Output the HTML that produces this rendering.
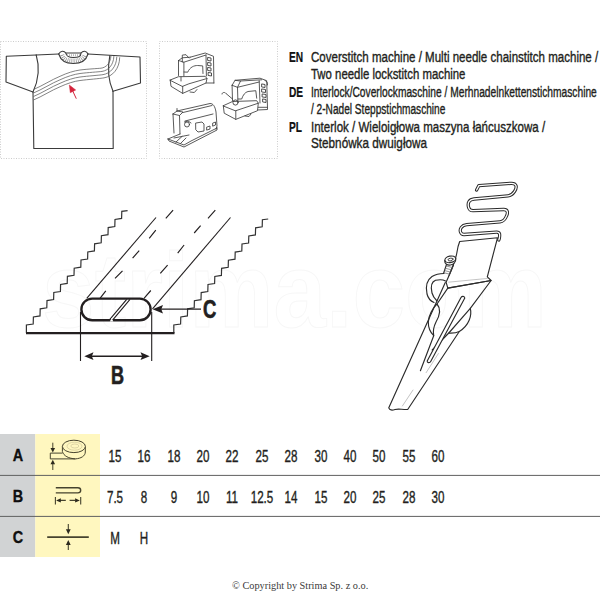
<!DOCTYPE html>
<html><head><meta charset="utf-8">
<style>
html,body{margin:0;padding:0;background:#fff;}
body{width:600px;height:600px;position:relative;overflow:hidden;font-family:"Liberation Sans",sans-serif;color:#231f20;}
.t{position:absolute;white-space:nowrap;transform-origin:0 0;}
#svg{position:absolute;left:0;top:0;}
.hd{font-size:15.2px;line-height:16px;-webkit-text-stroke:0.38px #231f20;}
.hb{font-weight:bold;-webkit-text-stroke:0.2px #000;color:#111;}
.num{position:absolute;-webkit-text-stroke:0.35px #231f20;font-size:15.6px;width:60px;text-align:center;transform:scaleX(0.745);transform-origin:30px 0;line-height:16px;white-space:nowrap;}
.lt{position:absolute;font-size:16px;font-weight:bold;width:36px;text-align:center;transform:scaleX(0.9);transform-origin:18px 0;line-height:16px;-webkit-text-stroke:0.3px #000;color:#111;}
.copy{position:absolute;left:232px;top:578.6px;font-family:"Liberation Serif",serif;font-size:10.3px;color:#3a3a3a;white-space:nowrap;line-height:14px;}
</style></head>
<body>
<svg id="svg" width="600" height="600" viewBox="0 0 600 600">
 <g fill="none" stroke="#cccccc" stroke-width="1" stroke-dasharray="1 1.5">
  <rect x="0.5" y="41.5" width="146" height="117"/>
  <rect x="159.5" y="41.5" width="118" height="117"/>
 </g>
<text x="42" y="327" font-family="Liberation Sans" font-weight="bold" font-size="106" textLength="505" lengthAdjust="spacingAndGlyphs" fill="none" stroke="#f7f7f7" stroke-width="1">strima.com</text>

 <g fill="none" stroke="#3a3a3a" stroke-width="1.1" stroke-linejoin="round" stroke-linecap="round">
  <path d="M36.2,55 L6.3,56.3 L6,82 L33,92"/>
  <path d="M36.2,55 C39.5,66 39.5,78 33,92"/>
  <path d="M36.2,55 L58.7,54"/>
  <path d="M88,54 L140,57 L140.5,83 L113,91.3"/>
  <path d="M109.8,55.6 C107.5,68 108,80 113,91.3"/>
  <path d="M33,92 L33.8,148.5 L113.2,148.5 L113,91.3"/>
  <path d="M58.7,54 C60.5,50.5 64,50.5 65.8,53 L81,53 C83,50.5 86.5,50.5 88,54"/>
  <path d="M58.7,54 C61,61.5 67,63.5 73.3,63.5 C80,63.5 86,61 88,54"/>
  <path d="M65.8,53 C66.5,57 69.5,57.5 73.3,57.5 C78,57.5 81,57 81,53"/>
 </g>
 <path d="M62,55 C64,60.5 68.5,60.8 73.3,60.8 C79,60.8 83,59.5 84.8,55" fill="none" stroke="#888" stroke-width="4.5" stroke-dasharray="0.7 1.3"/>
 <path d="M67,55.2 L80,55.2" fill="none" stroke="#999" stroke-width="2" stroke-dasharray="0.7 1.3"/>
 <g fill="none" stroke="#5a5a5a" stroke-width="0.75">
  <path d="M33.5,89.50 C42,86.00 52,79.50 60,76.30 C67,73.00 74,70.80 80,70.00 C88,69.00 97.0,68.60 101.0,68.20 C106.0,67.50 110.5,63.50 111.0,55.50"/>
  <path d="M33.5,93.00 C42,89.50 52,83.00 60,79.80 C67,76.50 74,74.30 80,73.50 C88,72.50 98.0,71.92 102.0,71.42 C108.2,70.47 113.5,65.25 113.9,56.10"/>
  <path d="M33.5,96.50 C42,93.00 52,86.50 60,83.30 C67,80.00 74,77.80 80,77.00 C88,76.00 99.0,75.25 103.0,74.64 C110.4,73.45 116.5,67.00 116.8,56.70"/>
  <path d="M33.5,100.00 C42,96.50 52,90.00 60,86.80 C67,83.50 74,81.30 80,80.50 C88,79.50 100.0,78.57 104.0,77.86 C112.6,76.42 119.5,68.75 119.7,57.30"/>
 </g>
 <g stroke="#d4243c" fill="#d4243c">
  <path d="M69.3,85 L70.3,92.7 L75.7,90 Z" stroke-width="0.5"/>
  <path d="M72.5,90.5 L76.3,98.7" stroke-width="1"/>
 </g>


 <g fill="none" stroke="#3c3c3c" stroke-width="0.85" stroke-linejoin="round" stroke-linecap="round">
  <!-- machine 1 -->
  <path d="M178.5,60.5 L183.9,62.2 L183.9,76 M178.5,60.5 L178.5,75.5 M178.5,60.5 L182.3,57.8 L190.2,57.2"/>
  <path d="M182.3,62 L182.3,55.1 L186,54.7 L188.9,58"/>
  <path d="M183.9,62.2 L206,55 M190.2,57.2 L205.2,53 L213.5,56.3 L213.9,83"/>
  <path d="M184,72 L187.7,72.2 C190,67 194,65.5 197.7,65.5 L202.7,65.9 L203,73.5"/>
  <path d="M206,55 L206.4,76"/>
  <path d="M208,57.5 l3,0.5 l0,3 l-3,-0.5z M208,62.5 l3,0.5 l0,3 l-3,-0.5z M208,67.5 l3,0.5 l0,3 l-3,-0.5z M208.5,72.5 l3,0.5 l0,3 l-3,-0.5z" stroke-width="0.9"/>
  <path d="M170.2,80 L178.5,76.7 L205.2,76.3 L207,78.5 L188.9,83.8 L182.7,86.3 Z"/>
  <path d="M170.2,80 L171,86.3 L182.7,93.4 L182.7,86.3 M182.7,93.4 L206,83 L213.9,83 M207,78.5 L206,83"/>
  <path d="M181,77 L181,81 M190,92 L194.3,92.5 L197,89.5"/>
  <!-- machine 2 -->
  <path d="M232.1,85.3 L237.5,87.3 L237.9,101.5 M232.1,85.3 L232.5,100.7 M232.1,85.3 L235,80.3 L240.5,81 L237.5,87.3"/>
  <path d="M235,80.3 L260,78.2 L266.7,80.7 L267.5,107.3 M240.5,81 L261.7,79.8 M237.5,87.3 L259.2,82"/>
  <path d="M238,99 L241.7,99 C243,95 245,92.3 248,91.5 L255.8,90.7 L256.7,98.2"/>
  <path d="M259.2,80.7 L260,103"/>
  <path d="M262,84 l3,0.5 l0,3 l-3,-0.5z M262,89 l3.5,0.5 l0,3 l-3.5,-0.5z M262.5,94 l3.5,0.5 l0,3 l-3.5,-0.5z M263,99 l3,0.5 l0,3 l-3,-0.5z" stroke-width="0.9"/>
  <path d="M265,80.5 C267,81 268,83 267.5,85"/>
  <path d="M223.3,105.7 L232.5,101.5 L256.7,100.7 L258.3,103.2 L235.8,110.7 Z"/>
  <path d="M223.3,105.7 L224.2,113.2 L235.8,119.4 L235.8,110.7 M235.8,119.4 L257.5,110.7 L258.3,103.2 M258.3,107.3 L267.5,107.3 L267.5,109.5 L257.8,110"/>
  <path d="M222,94 C222,92 225,92 226,93.5 L232.5,99"/>
  <circle cx="235.5" cy="102.5" r="2.6" stroke-width="0.9"/>
  <path d="M245,116 L249,116.5 L251,114"/>
  <!-- machine 3 -->
  <path d="M173,114 L179.5,115.5 L180,134 M173,114 L174,133 M173,114 L177,111 L183,112 L179.5,115.5"/>
  <path d="M177,111 L210,103.5 C213,103.5 215,106 216,112 L217,126 L216,129 M183,112.5 L212,105.5 M185,121 L213,114"/>
  <path d="M177,111 L177,108.5"/>
  <circle cx="187" cy="124.5" r="2.5"/>
  <path d="M184.5,122 L188,121 L191,123"/>
  <path d="M196,123 L202,122 L204,124 L204,131 L198,132 L196,130 Z"/>
  <path d="M207,127 l3,-1 l0,3 l-3,1z M213,123 l2.5,-1 l0,3 l-2.5,1z"/>
  <path d="M168,139 L180,134 M168,139 L184,145 L191,141 L217,128 M168,139 L169,141 L184,147 L217,130 L217,128"/>
  <path d="M174,138 L189,135 M176,142 L182,136.5 M180.5,143.5 L186,138"/>
 </g>


 <g fill="none" stroke="#231f20" stroke-linejoin="miter" stroke-linecap="butt">
  <path d="M26.4,333.0 L26.4,325.0 L33.2,324.0 L33.4,316.9 L40.0,315.9 L40.2,308.8 L46.8,307.8 L47.0,300.6 L53.6,299.6 L53.8,292.5 L60.4,291.5 L60.6,284.4 L67.2,283.4 L67.4,276.3 L74.0,275.3 L74.2,268.2 L80.8,267.2 L81.0,260.0 L87.6,259.0 L87.8,251.9 L94.4,250.9 L94.6,243.8 L101.2,242.8 L101.4,235.7 L108.0,234.7 L108.2,227.6 L114.8,226.6 L115.0,219.4 L121.6,218.4 L121.8,211.3 L127.6,210.6" stroke-width="1.2" stroke="#333"/>
  <path d="M173.8,333.0 L173.8,325.0 L180.6,324.0 L180.8,316.9 L187.4,315.9 L187.6,308.8 L194.2,307.8 L194.4,300.7 L201.0,299.7 L201.2,292.6 L207.8,291.6 L208.0,284.5 L214.6,283.5 L214.8,276.4 L221.4,275.4 L221.6,268.3 L228.2,267.3 L228.4,260.2 L235.0,259.2 L235.2,252.1 L241.8,251.1 L242.0,244.0 L248.6,243.0 L248.8,235.9 L255.4,234.9 L255.6,227.8 L262.2,226.8 L262.4,219.7 L268.2,219.0" stroke-width="1.2" stroke="#333"/>
  <path d="M26,333.2 L174.5,333.2" stroke-width="2.3"/>
  <path d="M86.7,298.3 L156,217.5" stroke-width="1.1"/>
  <path d="M152.5,308.8 L230.5,217.5" stroke-width="1.1"/>
  <path d="M173.1,210.1 L165.8,218.3 M155.8,230.2 L149.2,238.4 M139.2,250.7 L132.6,258.1 M122.5,270.8 L115,278.3 M105.8,290.8 L100,298.3" stroke-width="1.15"/>
  <path d="M215.3,210.1 L208,218.3 M200.6,225.7 L194.2,233 M184.1,245 L177.7,253.2 M167.6,265.1 L160.3,273.4 M150.8,290.5 L144,298.3" stroke-width="1.15"/>
  <path d="M109.2,320.2 L126.7,299.3 M112.6,320.2 L130,299.3" stroke-width="1.1"/>
  <rect x="81.4" y="298.6" width="69.2" height="21.6" rx="10.8" ry="10.8" stroke-width="2.4"/>
  <path d="M80.5,312 L80.5,361 M151.7,312 L151.7,361" stroke-width="1.1"/>
  <path d="M90,356.2 L144,356.2" stroke-width="1.5"/>
  <path d="M201,309.2 L160,309.2" stroke-width="1.3"/>
 </g>
 <path d="M109.8,321.5 L113.3,321.5 L111.8,318 Z" fill="#fff"/>
 <g fill="#231f20">
  <path d="M84.3,356.2 L93.5,352.3 L91.8,356.2 L93.5,360.1 Z"/>
  <path d="M149.7,356.2 L140.5,352.3 L142.2,356.2 L140.5,360.1 Z"/>
  <path d="M152.6,309.2 L163,305 L161.3,309.2 L163,313.4 Z"/>
 </g>


 <g fill="none" stroke-linejoin="round" stroke-linecap="round">
  <path id="wire" d="M476.6,190 L478.9,185.6 L511,183.3 C516.5,183 517.5,187 514.5,191.5 C512.5,194.5 511,195.5 508,195.8 L474,199 C469,199.5 467.5,203 468.5,207 C469,209.5 470.5,210.7 473,210.7 L503.5,209.5 C508,209.3 508,213 506.5,216 C505.5,218.5 503.5,221.5 500,221.8 L466.7,224.7 C461.5,225.2 459.5,229 460.5,232 C461,233.5 462,234.5 464,234.5 L496.5,232.2 C500,232 500,234.5 499.3,238.5 L498.8,240" stroke="#2b2b2b" stroke-width="3.3"/>
  <path d="M476.6,190 L478.9,185.6 L511,183.3 C516.5,183 517.5,187 514.5,191.5 C512.5,194.5 511,195.5 508,195.8 L474,199 C469,199.5 467.5,203 468.5,207 C469,209.5 470.5,210.7 473,210.7 L503.5,209.5 C508,209.3 508,213 506.5,216 C505.5,218.5 503.5,221.5 500,221.8 L466.7,224.7 C461.5,225.2 459.5,229 460.5,232 C461,233.5 462,234.5 464,234.5 L496.5,232.2 C500,232 500,234.5 499.3,238.5 L498.8,240" stroke="#fff" stroke-width="1.3"/>
 </g>
 <g fill="none" stroke="#2b2b2b" stroke-width="1.15" stroke-linejoin="round" stroke-linecap="round">
  <!-- plate -->
  <path d="M459.7,241.5 L497.5,237.8 L487.3,276.8 L491.1,280.5 L447.8,288.1 L446.1,282.2 C450,273 455.5,262 457,252 C457.5,248 458.5,244.5 459.7,241.5 Z" fill="#fff"/>
  <!-- body front face + right edges -->
  <path d="M447.8,288.1 L491.1,280.5 L470.3,308.3 L448.8,333"/>
  <path d="M470.3,308.3 C472,315 469.5,325 459.3,331.5 C456,333 452,333.2 448.8,333 L432.2,350"/>
  <path d="M459.3,331.5 L407.7,409.5 C402,409.8 399,408.3 395,409.5 C392,410.5 389.5,410 388.7,407.9 L445.3,282.5"/>
  <!-- leaf / face-left edge -->
  <path d="M447.8,288.1 L437,304 C440.5,308 440,315 436,322 C434,326 432.5,330 433.7,335.7 L420.4,370.7"/>
  <path d="M437,304 C432.5,308 428.5,316 428.3,322 C428.2,328 430,332 433.7,335.7"/>
  <!-- slot -->
  <path d="M461,297.5 C462,295.8 464.5,296 464.8,298 L430.7,361.5 C429.8,363.2 427,363 427.2,361 Z" fill="#fff"/>
  <!-- ring -->
  <path d="M444,273.5 C440,273.5 436,274 432,276.5 C427,280 425.5,287 427,294 C428,298 430.5,301 434,302.5"/>
  <path d="M445.5,281 C443,279.5 439,279.5 435.5,280.3 C431.5,282 430.5,287 432,293 C433,297 435,299 437,301"/>
  <!-- screw -->
  <path d="M443.5,273.5 L446.5,264.5 M449.2,275.2 L453.5,265"/>
  <path d="M444.7,260.5 C444.5,264 447.5,265.5 450.5,265 C453.5,264.5 456,262 455.8,258.5" fill="#fff"/>
  <ellipse cx="450.3" cy="259.3" rx="5.5" ry="3.2" transform="rotate(-12 450.3 259.3)" fill="#fff"/>
  <ellipse cx="450.5" cy="259.5" rx="2.6" ry="1.3" transform="rotate(-12 450.5 259.5)" stroke-width="0.8"/>
 </g>
 <g fill="none" stroke="#666" stroke-width="0.7">
  <path d="M446,266 L452.5,267.5 M445.3,268.3 L451.6,269.8 M444.6,270.6 L450.7,272.1 M444,272.8 L449.8,274.2"/>
 </g>
 <g fill="none" stroke="#aaa" stroke-width="0.7">
  <path d="M448.3,282.2 L487.8,278.4"/>
  <path d="M425.9,373 L438.6,353.2 M402.2,406.3 L413.2,389.7"/>
 </g>


 <rect x="0" y="434" width="35.3" height="123" fill="#d1d3d4"/>
 <rect x="35.3" y="434" width="64.7" height="123" fill="#fff7bf"/>
 <g stroke="#606060" stroke-width="1">
  <line x1="0" y1="475.4" x2="600" y2="475.4"/>
  <line x1="0" y1="516.4" x2="600" y2="516.4"/>
 </g>
 <g fill="none" stroke="#46432e" stroke-width="1">
  <!-- tape roll A -->
  <path d="M62.4,453.1 L50.3,453.1 L50.3,458.9 L75.3,458.9 C81,458.5 85.3,456 85.3,452 L85.3,446.4"/>
  <path d="M62.4,446.4 L62.4,451.5 C63.5,456 69,458.5 75.3,458.9"/>
  <ellipse cx="73.9" cy="446.4" rx="11.5" ry="6.2" fill="#fff7bf"/>
  <ellipse cx="74.5" cy="446.2" rx="7.5" ry="4" stroke="#cfc69a" stroke-width="0.7"/>
  <ellipse cx="74.8" cy="446" rx="4" ry="2" stroke="#cfc69a" stroke-width="0.7"/>
  <path d="M52.8,442.7 L52.8,449 M52.8,463.5 L52.8,470"/>
  <!-- B -->
  <path d="M55.8,487.7 L77.9,487.7 C81.6,487.7 81.6,492.9 77.9,492.9 L55.8,492.9" stroke-width="1.4"/>
  <path d="M55.4,497.1 L55.4,504.6 M80.7,497.1 L80.7,504.6 M60,500.4 L65.8,500.4 M69.6,500.4 L75.5,500.4" stroke-width="1.1"/>
  <!-- C -->
  <path d="M47.2,537.1 L88.8,537.1" stroke-width="1.6"/>
  <path d="M68.3,524 L68.3,530 M68.3,544 L68.3,550" stroke-width="1.1"/>
 </g>
 <g fill="#2d2a1e">
  <path d="M50.5,448 L55.1,448 L52.8,452.6 Z"/>
  <path d="M50.5,464.3 L55.1,464.3 L52.8,459.7 Z"/>
  <path d="M56.1,500.4 L60.8,498.3 L60.8,502.5 Z"/>
  <path d="M79.8,500.4 L75.1,498.3 L75.1,502.5 Z"/>
  <path d="M65.9,529.3 L70.7,529.3 L68.3,534.2 Z"/>
  <path d="M65.9,544.9 L70.7,544.9 L68.3,540 Z"/>
 </g>

</svg>
<div class="t" style="left:203.2px;top:295.9px;font-size:26.3px;font-weight:bold;line-height:26px;transform:scaleX(0.7);-webkit-text-stroke:0.7px #231f20;">C</div>
<div class="t" style="left:110.5px;top:361.6px;font-size:25.8px;font-weight:bold;line-height:26px;transform:scaleX(0.7);-webkit-text-stroke:0.7px #231f20;">B</div>
<div class="t hd hb" style="left:289.3px;top:49.15px;transform:scaleX(0.67);">EN</div>
<div class="t hd" style="left:310.5px;top:49.15px;transform:scaleX(0.7593840000000001);">Coverstitch machine / Multi needle chainstitch machine /</div>
<div class="t hd" style="left:310.5px;top:65.85px;transform:scaleX(0.749844);">Two needle lockstitch machine</div>
<div class="t hd hb" style="left:289.3px;top:83.65px;transform:scaleX(0.67);">DE</div>
<div class="t hd" style="left:310.5px;top:83.65px;transform:scaleX(0.673047);">Interlock/Coverlockmaschine / Merhnadelnkettenstichmaschine</div>
<div class="t hd" style="left:310.5px;top:100.55px;transform:scaleX(0.6658919999999999);">/ 2-Nadel Steppstichmaschine</div>
<div class="t hd hb" style="left:289.3px;top:118.85px;transform:scaleX(0.67);">PL</div>
<div class="t hd" style="left:310.5px;top:118.85px;transform:scaleX(0.759861);">Interlok / Wieloigłowa maszyna łańcuszkowa /</div>
<div class="t hd" style="left:310.5px;top:134.85px;transform:scaleX(0.771786);">Stebnówka dwuigłowa</div>
<div class="lt" style="left:0px;top:447.6px;">A</div>
<div class="lt" style="left:0.2px;top:489.4px;">B</div>
<div class="lt" style="left:0px;top:530px;">C</div>
<div class="num" style="left:85.0px;top:449px;">15</div>
<div class="num" style="left:114.3px;top:449px;">16</div>
<div class="num" style="left:143.7px;top:449px;">18</div>
<div class="num" style="left:173.1px;top:449px;">20</div>
<div class="num" style="left:202.4px;top:449px;">22</div>
<div class="num" style="left:231.8px;top:449px;">25</div>
<div class="num" style="left:261.1px;top:449px;">28</div>
<div class="num" style="left:290.5px;top:449px;">30</div>
<div class="num" style="left:319.8px;top:449px;">40</div>
<div class="num" style="left:349.2px;top:449px;">50</div>
<div class="num" style="left:378.5px;top:449px;">55</div>
<div class="num" style="left:407.9px;top:449px;">60</div>
<div class="num" style="left:85.0px;top:490.2px;">7.5</div>
<div class="num" style="left:114.3px;top:490.2px;">8</div>
<div class="num" style="left:143.7px;top:490.2px;">9</div>
<div class="num" style="left:173.1px;top:490.2px;">10</div>
<div class="num" style="left:202.4px;top:490.2px;">11</div>
<div class="num" style="left:231.8px;top:490.2px;">12.5</div>
<div class="num" style="left:261.1px;top:490.2px;">14</div>
<div class="num" style="left:290.5px;top:490.2px;">15</div>
<div class="num" style="left:319.8px;top:490.2px;">20</div>
<div class="num" style="left:349.2px;top:490.2px;">25</div>
<div class="num" style="left:378.5px;top:490.2px;">28</div>
<div class="num" style="left:407.9px;top:490.2px;">30</div>
<div class="num" style="left:85.0px;top:531px;">M</div>
<div class="num" style="left:114.3px;top:531px;">H</div>
<div class="copy">© Copyright by Strima Sp. z o.o.</div>
</body></html>
